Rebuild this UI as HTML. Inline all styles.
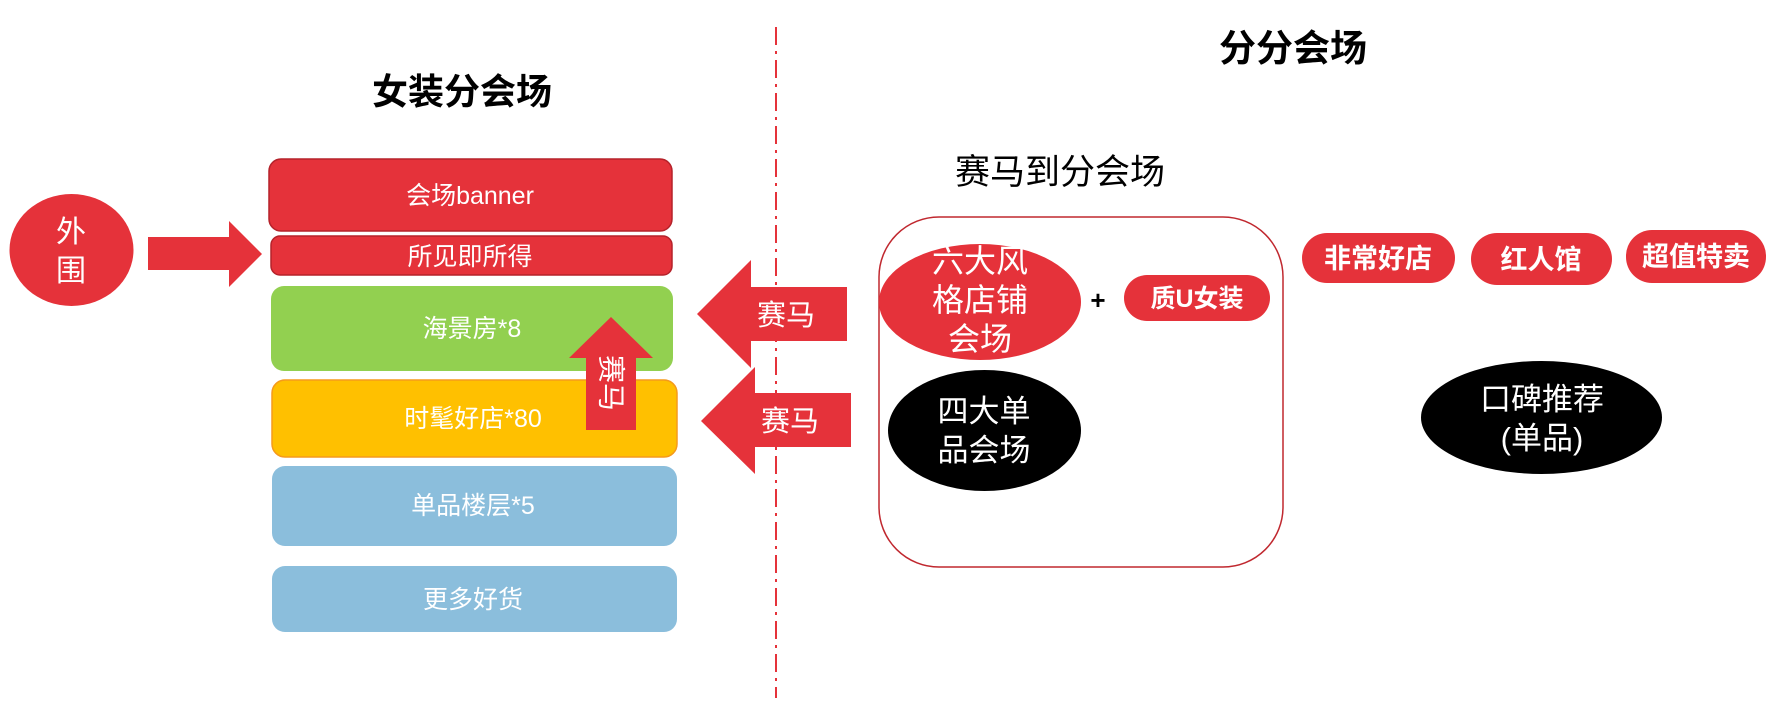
<!DOCTYPE html>
<html><head><meta charset="utf-8"><style>
html,body{margin:0;padding:0;background:#fff;}
svg{display:block;}
text{font-family:"Liberation Sans","Noto Sans CJK SC",sans-serif;}
</style></head><body>
<svg width="1781" height="702" viewBox="0 0 1781 702" xmlns="http://www.w3.org/2000/svg">
<text x="462" y="104" font-size="36" font-weight="bold" text-anchor="middle" fill="#000">女装分会场</text>
<text x="1293" y="61" font-size="37" font-weight="bold" text-anchor="middle" fill="#000">分分会场</text>
<text x="1060" y="184" font-size="35" text-anchor="middle" fill="#000">赛马到分会场</text>

<line x1="776" y1="27" x2="776" y2="698" stroke="#e5323a" stroke-width="2" stroke-dasharray="18,6,3,6"/>

<rect x="269" y="159" width="403" height="72" rx="12" fill="#e5323a" stroke="#b5222a" stroke-width="1.5"/>
<text x="470" y="204" font-size="25" text-anchor="middle" fill="#fff">会场banner</text>
<rect x="271" y="236" width="401" height="39" rx="9" fill="#e5323a" stroke="#b5222a" stroke-width="1.5"/>
<text x="470" y="265" font-size="25" text-anchor="middle" fill="#fff">所见即所得</text>
<rect x="271" y="286" width="402" height="85" rx="13" fill="#92d050"/>
<text x="472" y="337" font-size="25" text-anchor="middle" fill="#fff">海景房*8</text>
<rect x="272" y="380" width="405" height="77" rx="13" fill="#ffc000" stroke="#f59a1b" stroke-width="1.5"/>
<text x="473" y="427" font-size="25" text-anchor="middle" fill="#fff">时髦好店*80</text>
<rect x="272" y="466" width="405" height="80" rx="13" fill="#8bbedc"/>
<text x="473" y="514" font-size="25" text-anchor="middle" fill="#fff">单品楼层*5</text>
<rect x="272" y="566" width="405" height="66" rx="13" fill="#8bbedc"/>
<text x="473" y="608" font-size="25" text-anchor="middle" fill="#fff">更多好货</text>

<polygon points="611,317 653,358 636,358 636,430 586,430 586,358 569,358" fill="#e5323a"/>
<text transform="translate(611,383) rotate(90)" font-size="28" text-anchor="middle" dominant-baseline="central" fill="#fff">赛马</text>

<ellipse cx="71.5" cy="250" rx="62" ry="56" fill="#e5323a"/>
<text x="71" y="242" font-size="30" text-anchor="middle" fill="#fff">外</text>
<text x="71" y="281" font-size="30" text-anchor="middle" fill="#fff">围</text>
<polygon points="148,237 229,237 229,221 262,254 229,287 229,270 148,270" fill="#e5323a"/>

<polygon points="697,314 751,260 751,287 847,287 847,341 751,341 751,368" fill="#e5323a"/>
<text x="786" y="325" font-size="29" text-anchor="middle" fill="#fff">赛马</text>
<polygon points="701,421 755,367 755,393 851,393 851,447 755,447 755,474" fill="#e5323a"/>
<text x="790" y="431" font-size="29" text-anchor="middle" fill="#fff">赛马</text>

<rect x="879" y="217" width="404" height="350" rx="60" fill="none" stroke="#c0282f" stroke-width="1.5"/>
<ellipse cx="980" cy="302" rx="101" ry="58" fill="#e5323a"/>
<text x="980" y="272" font-size="32" text-anchor="middle" fill="#fff">六大风</text>
<text x="980" y="311" font-size="32" text-anchor="middle" fill="#fff">格店铺</text>
<text x="980" y="350" font-size="32" text-anchor="middle" fill="#fff">会场</text>
<text x="1098" y="309" font-size="26" font-weight="bold" text-anchor="middle" fill="#000">+</text>
<rect x="1124" y="275" width="146" height="46" rx="23" fill="#e5323a"/>
<text x="1197" y="307" font-size="25" font-weight="bold" text-anchor="middle" fill="#fff">质U女装</text>
<ellipse cx="984.5" cy="430.5" rx="96.5" ry="60.5" fill="#000"/>
<text x="984" y="422" font-size="31" text-anchor="middle" fill="#fff">四大单</text>
<text x="984" y="461" font-size="31" text-anchor="middle" fill="#fff">品会场</text>

<rect x="1302" y="233" width="153" height="50" rx="25" fill="#e5323a"/>
<text x="1378" y="268" font-size="27" font-weight="bold" text-anchor="middle" fill="#fff">非常好店</text>
<rect x="1471" y="233" width="141" height="52" rx="26" fill="#e5323a"/>
<text x="1541" y="269" font-size="27" font-weight="bold" text-anchor="middle" fill="#fff">红人馆</text>
<rect x="1626" y="230" width="140" height="53" rx="26" fill="#e5323a"/>
<text x="1696" y="266" font-size="27" font-weight="bold" text-anchor="middle" fill="#fff">超值特卖</text>

<ellipse cx="1541.5" cy="417.5" rx="120.5" ry="56.5" fill="#000"/>
<text x="1542" y="410" font-size="31" text-anchor="middle" fill="#fff">口碑推荐</text>
<text x="1542" y="449" font-size="31" text-anchor="middle" fill="#fff">(单品)</text>
</svg>
</body></html>
